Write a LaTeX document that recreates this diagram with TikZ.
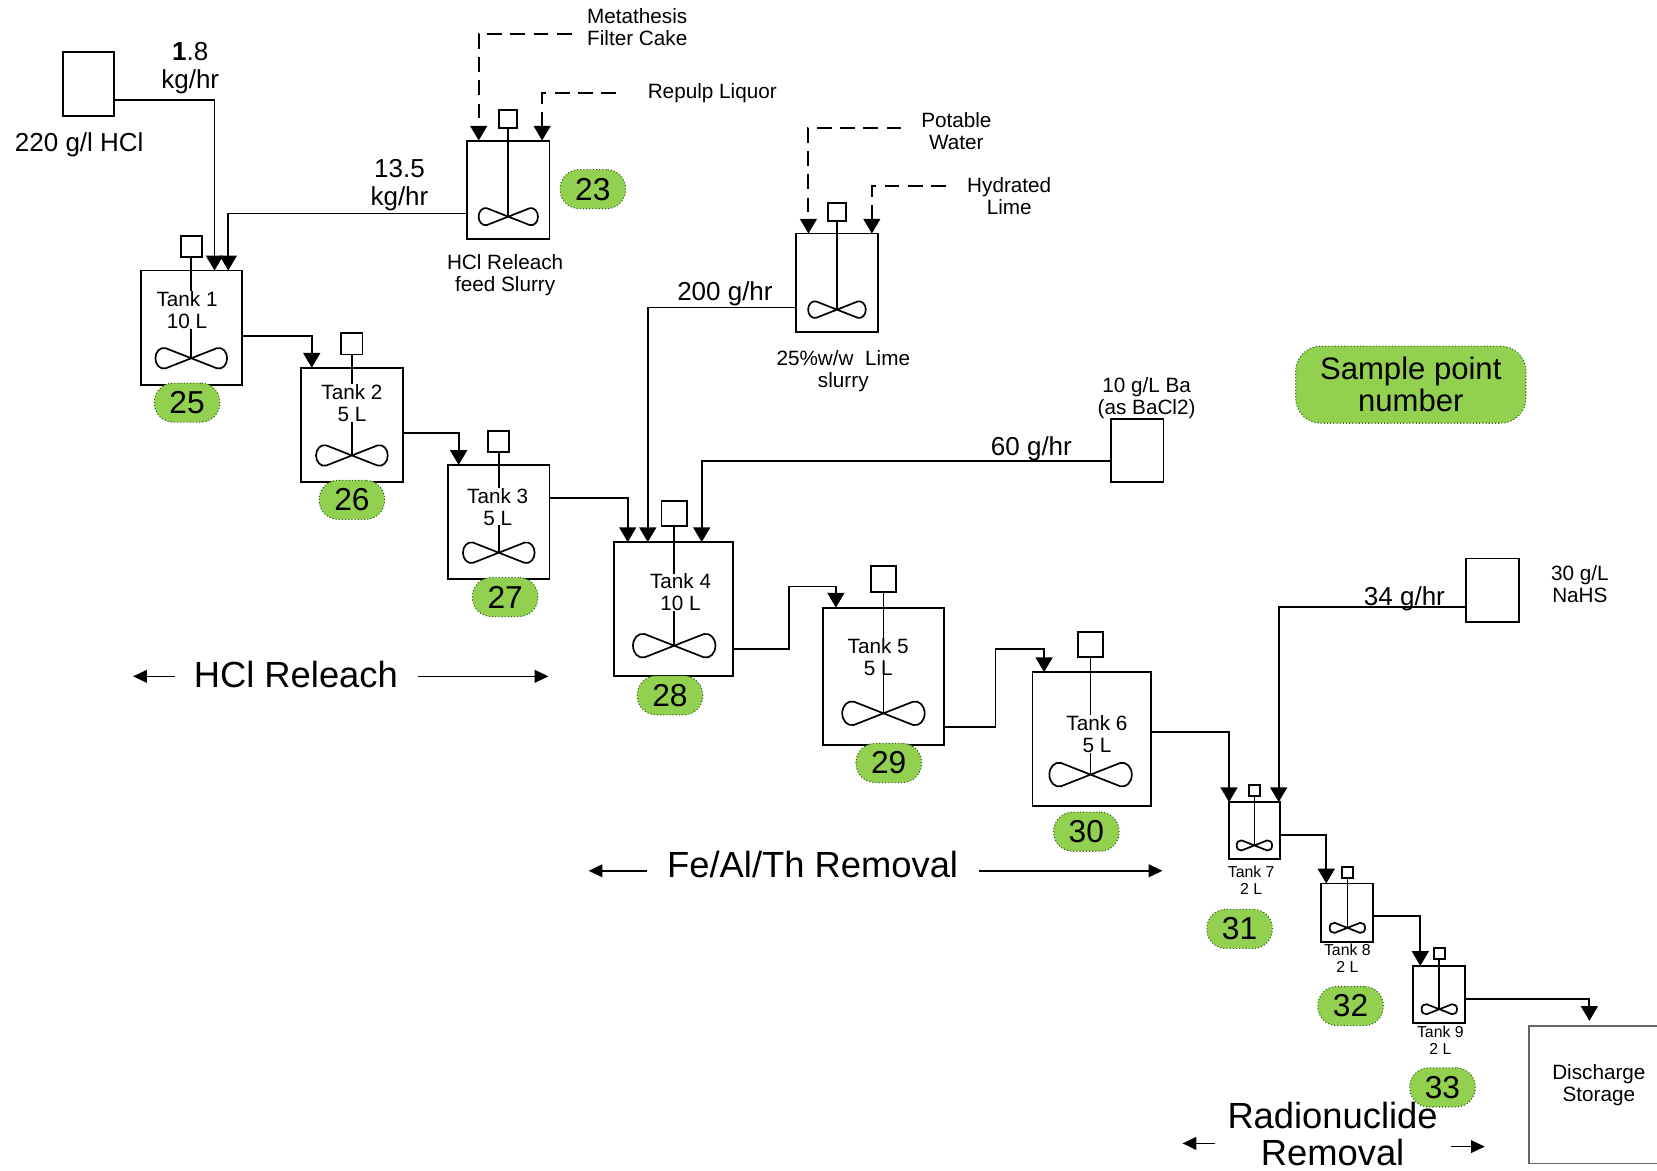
\documentclass[tikz,border=0pt]{standalone}
\usepackage{fontspec}
\setmainfont{Liberation Sans}
\usetikzlibrary{arrows.meta,calc,positioning}
\definecolor{Ink}{HTML}{000000}
\definecolor{Spot}{HTML}{92D050}
\definecolor{Edge}{HTML}{2F5D14}
\definecolor{Wall}{HTML}{666666}
\tikzset{
  vessel/.style={draw=Ink,line width=0.9pt,inner sep=0pt,outer sep=0pt},
  motor/.style={draw=Ink,line width=0.9pt,inner sep=0pt,outer sep=0pt},
  shaft/.style={draw=Ink,line width=0.8pt},
  flow/.style={draw=Ink,line width=0.9pt,-{Triangle[length=7pt,width=8pt]}},
  feedflow/.style={flow,dash pattern=on 7pt off 4pt},
  span/.style={draw=Ink,line width=0.7pt,-{Triangle[length=6.5pt,width=6pt]}},
  spot/.style={fill=Spot,draw=Edge,densely dotted,line width=0.5pt,rounded corners=9pt,inner sep=0pt,text=Ink},
  tag/.style={align=center,inner sep=0pt,text=Ink,font=\fontsize{9.8}{10.5}\selectfont},
  ratetag/.style={tag,font=\fontsize{12.3}{13}\selectfont},
  banner/.style={tag,font=\fontsize{17.2}{18}\selectfont},
  smalltag/.style={tag,font=\fontsize{7.5}{8}\selectfont},
  impeller/.pic={
    \draw[Ink,line width=0.8pt] (0,0) -- (-28,-11) .. controls (-34,-12.5) and (-39,-7) .. (-39,0)
      .. controls (-39,7) and (-34,12.5) .. (-28,11) -- (28,-11)
      .. controls (34,-12.5) and (39,-7) .. (39,0)
      .. controls (39,7) and (34,12.5) .. (28,11) -- cycle;
  }
}
\begin{document}
\begin{tikzpicture}[x=0.5pt,y=-0.5pt]
  \useasboundingbox (0,0) rectangle (1568,1108);
  \foreach \name/\l/\r/\t/\b/\sx/\my/\ms/\iy/\k in {
    slurry/442/520/133/226/481/112.5/17/205/0.72,
    lime/753/831/221/314/792/201/17/293/0.70,
    tank1/133/229/256/364/181/233/20/339/0.87,
    tank2/285/381/348/456/333/325.5/20/431/0.87,
    tank3/424/520/440/548/472/417.5/20/523/0.87,
    tank4/581/694/513/640/638/486/24/611/1,
    tank5/779/893/575/705/836/548/24/675/1,
    tank6/977/1089/636/763/1032/610/24/733/1,
    tank7/1163/1211/759/813/1187/748/10.5/800/0.43,
    tank8/1250/1299/836/891/1275/826/10.5/878/0.43,
    tank9/1337/1386/914/968/1362/902/10.5/955/0.43}{
    \node[vessel,minimum width={(\r-\l)*0.5pt},minimum height={(\b-\t)*0.5pt}] (\name) at ({(\l+\r)/2},{(\t+\b)/2}) {};
    \node[motor,minimum size={\ms*0.5pt}] (\name-m) at (\sx,\my) {};
    \coordinate (\name-i) at (\sx,\iy);
    \draw[shaft] (\name-m.south) -- (\name-i);
    \pic[scale=\k] at (\name-i) {impeller};
  }
  \node[vessel,minimum width=24pt,minimum height=30pt] (acid) at (83.5,79.5) {};
  \node[vessel,minimum width=25pt,minimum height=30pt] (barium) at (1076,426.5) {};
  \node[vessel,minimum width=25pt,minimum height=30pt] (sulfide) at (1412,558.5) {};
  \node[vessel,draw=Wall,line width=0.7pt,minimum width=70pt,minimum height=65pt] (storage) at (1517,1036) {};
  \foreach \name/\x/\y/\w/\n in {
    s23/561/179/62/23,s25/177/381/62/25,s26/333/473/62/26,s27/478/565/62/27,s28/634/658/62/28,
    s29/841/722/62/29,s30/1028/787/62/30,s31/1173/879/62/31,s32/1278/952/62/32,s33/1365/1029/62/33}{
    \node[spot,minimum width={\w*0.5pt},minimum height=18.5pt,font=\fontsize{15}{15}\selectfont] (\name) at (\x,\y) {\n};
  }
  \node[spot,rounded corners=12pt,minimum width=109pt,minimum height=36.5pt,font=\fontsize{14.7}{15}\selectfont,align=center] (legend) at (1335,364) {Sample point\\number};
  \foreach \name/\x/\y/\txt in {
    label1/177/293.5/{Tank 1\\10 L},
    label2/333/381.5/{Tank 2\\5 L},
    label3/471/479.5/{Tank 3\\5 L},
    label4/644/560.5/{Tank 4\\10 L},
    label5/831/621.5/{Tank 5\\5 L},
    label6/1038/694.5/{Tank 6\\5 L}}{
    \node[tag,fill=white] (\name) at (\x,\y) {\txt};
  }
  \draw[shaft] ($(tank5-i)+(0,-50)$) -- (tank5-i);
  \foreach \name/\x/\y/\txt in {
    label7/1184/833/{Tank 7\\2 L},
    label8/1275/907/{Tank 8\\2 L},
    label9/1363/984/{Tank 9\\2 L}}{
    \node[smalltag] (\name) at (\x,\y) {\txt};
  }
  \foreach \name/\x/\y/\txt in {
    cakelabel/603/26/{Metathesis\\Filter Cake},
    liquorlabel/674/88/{Repulp Liquor},
    waterlabel/905/124/{Potable\\Water},
    hydratelabel/955/185.5/{Hydrated\\Lime},
    slurrylabel/478/260.5/{HCl Releach\\feed Slurry},
    limelabel/798/351.5/{25\%w/w\ \ Lime\\slurry},
    bariumlabel/1085/377/{10 g/L Ba\\(as BaCl2)},
    sulfidelabel/1495/552.5/{30 g/L\\NaHS},
    storagelabel/1513/1027/{Discharge\\Storage}}{
    \node[tag] (\name) at (\x,\y) {\txt};
  }
  \foreach \name/\x/\y/\txt in {
    acidrate/180/64.5/{\textbf{1}.8\\kg/hr},
    acidlabel/75/137/{220 g/l HCl},
    slurryrate/378/175/{13.5\\kg/hr},
    limerate/686/278/{200 g/hr},
    bariumrate/976/425/{60 g/hr},
    sulfiderate/1329/567/{34 g/hr}}{
    \node[ratetag] (\name) at (\x,\y) {\txt};
  }
  \node[banner] (leach) at (280,638) {HCl Releach};
  \node[banner] (removal) at (769,818) {Fe/Al/Th Removal};
  \node[banner,font=\fontsize{17.2}{17.6}\selectfont] (nuclide) at (1261,1073) {Radionuclide\\Removal};
  \coordinate (cake) at (541,32);
  \coordinate (liquor) at (583,88);
  \coordinate (water) at (853,121);
  \coordinate (hydrate) at (895,176);
  \draw[flow] ($(acid.north east)+(0,45)$) -| ($(tank1.north west)+(70,0)$);
  \draw[flow] ($(slurry.north west)+(0,69)$) -| ($(tank1.north west)+(83,0)$);
  \draw[feedflow] (cake) -| ($(slurry.north west)+(11,0)$);
  \draw[feedflow] (liquor) -| ($(slurry.north west)+(71,0)$);
  \draw[feedflow] (water) -| ($(lime.north west)+(12,0)$);
  \draw[feedflow] (hydrate) -| ($(lime.north west)+(72,0)$);
  \draw[flow] ($(tank1.north east)+(0,62)$) -| ($(tank2.north west)+(10,0)$);
  \draw[flow] ($(tank2.north east)+(0,62)$) -| ($(tank3.north west)+(10,0)$);
  \draw[flow] ($(tank3.north east)+(0,31)$) -| ($(tank4.north west)+(13,0)$);
  \draw[flow] ($(lime.north west)+(0,70)$) -| ($(tank4.north west)+(32,0)$);
  \draw[flow] ($(barium.north west)+(0,40)$) -| ($(tank4.north west)+(83,0)$);
  \draw[flow] ($(tank4.north east)+(0,101)$) -| ($(tank5.north west)+(-32,-20)$) -| ($(tank5.north west)+(12,0)$);
  \draw[flow] ($(tank5.north east)+(0,113)$) -| ($(tank6.north west)+(-35,-22)$) -| ($(tank6.north west)+(11,0)$);
  \draw[flow] ($(tank6.north east)+(0,57)$) -| (tank7.north west);
  \draw[flow] ($(sulfide.north west)+(0,46)$) -| ($(tank7.north west)+(47,0)$);
  \draw[flow] ($(tank7.north east)+(0,31)$) -| ($(tank8.north west)+(5,0)$);
  \draw[flow] ($(tank8.north east)+(0,31)$) -| ($(tank9.north west)+(7,0)$);
  \draw[flow] ($(tank9.north east)+(0,31)$) -| ($(storage.north west)+(57,-5)$);
  \coordinate (leachL) at (126,640);
  \coordinate (leachR) at (519,640);
  \coordinate (removalL) at (557,824);
  \coordinate (removalR) at (1100,824);
  \coordinate (nuclideL) at (1119,1082);
  \coordinate (nuclideR) at (1405,1085);
  \draw[span] ($(leach.west)+(-17,2)$) -- (leachL);
  \draw[span] ($(leach.east)+(19,2)$) -- (leachR);
  \draw[span] ($(removal.west)+(-19,6)$) -- (removalL);
  \draw[span] ($(removal.east)+(19,6)$) -- (removalR);
  \draw[span] ($(nuclide.west)+(-11,9)$) -- (nuclideL);
  \draw[span] ($(nuclide.east)+(12,12)$) -- (nuclideR);
\end{tikzpicture}
\end{document}
